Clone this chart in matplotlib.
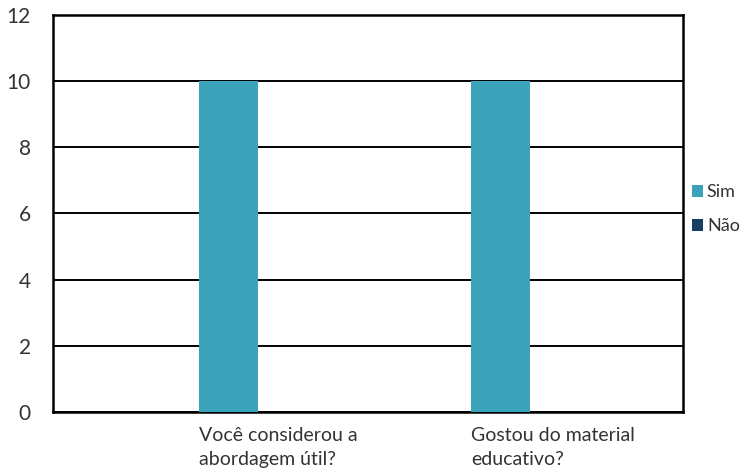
import numpy as np
import matplotlib.pyplot as plt

plt.rcParams['font.family'] = ['Lato', 'DejaVu Sans']

categorias = ["Você considerou a\nabordagem útil?", "Gostou do material\neducativo?"]
sim = [10, 10]
nao = [0, 0]

cor_sim = "#3BA2BC"
cor_nao = "#183F63"

fig = plt.figure(figsize=(7.41, 4.68), dpi=100)
ax = fig.add_axes([0.0715, 0.1197, 0.8502, 0.8483])

x = np.arange(len(categorias))
w = 0.217
b1 = ax.bar(x - w / 2, sim, w, color=cor_sim, label="Sim", zorder=3)
b2 = ax.bar(x + w / 2, nao, w, color=cor_nao, label="Não", zorder=3)

ax.set_ylim(0, 12)
ax.set_xlim(-0.754, 1.5625)
ax.set_yticks(range(0, 13, 2))
ax.set_xticks(x - w)
ax.set_xticklabels(categorias, ha="left", fontsize=14, color="#333333", linespacing=1.45)
ax.tick_params(axis="y", length=0, pad=16, labelsize=15, labelcolor="#333333")
ax.tick_params(axis="x", length=0, pad=11)
ax.grid(axis="y", color="black", linewidth=1.4, zorder=0)
for s in ax.spines.values():
    s.set_linewidth(1.8)
    s.set_color("black")

fig.legend(handles=[b1, b2], loc="center left", bbox_to_anchor=(0.934, 0.553),
           frameon=False, fontsize=13, handlelength=0.62, handleheight=0.62,
           handletextpad=0.2, labelspacing=1.0, borderpad=0, borderaxespad=0,
           labelcolor="#333333")

fig.savefig("out.png", dpi=100)
